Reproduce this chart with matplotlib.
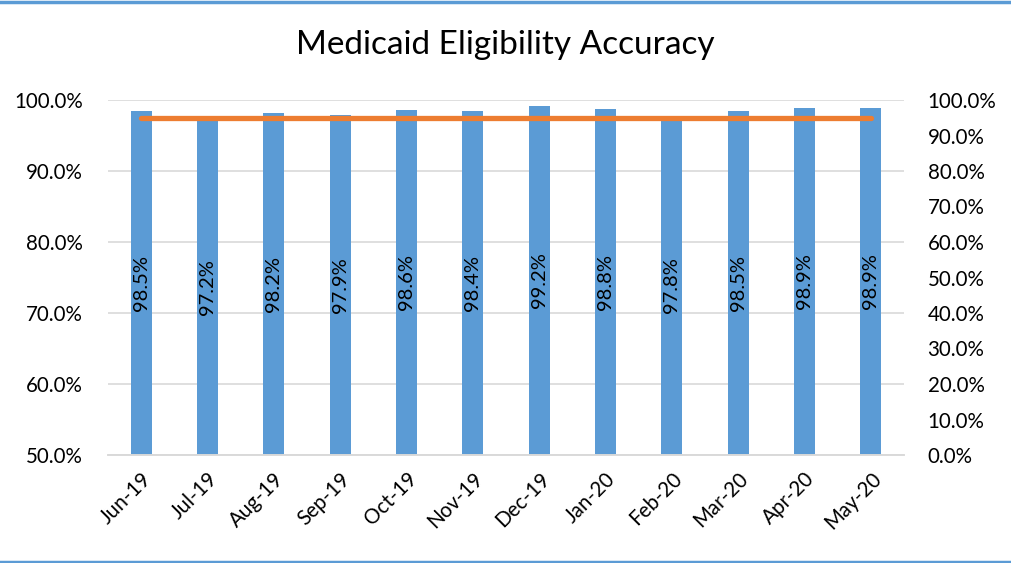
import matplotlib.pyplot as plt
from matplotlib.ticker import PercentFormatter
from matplotlib.lines import Line2D

months = ["Jun-19", "Jul-19", "Aug-19", "Sep-19", "Oct-19", "Nov-19",
          "Dec-19", "Jan-20", "Feb-20", "Mar-20", "Apr-20", "May-20"]
accuracy = [98.5, 97.2, 98.2, 97.9, 98.6, 98.4, 99.2, 98.8, 97.8, 98.5, 98.9, 98.9]
target = [95.0] * len(months)

plt.rcParams["font.family"] = ["Lato", "DejaVu Sans"]

fig = plt.figure(figsize=(10.11, 5.63), dpi=100)
ax = fig.add_axes([108 / 1011, 1 - 455 / 563, 796 / 1011, 355 / 563])
ax2 = ax.twinx()

x = list(range(len(months)))
ax.bar(x, accuracy, width=0.32, color="#5B9BD5", zorder=2)
for xi, v in zip(x, accuracy):
    ax.text(xi, (v + 50) / 2, f"{v:.1f}%", rotation=90, ha="center", va="center",
            fontsize=14.5, color="black", zorder=3)

ax2.plot(x, target, color="#ED7D31", linewidth=3.8, solid_capstyle="round", zorder=4)

ax.set_ylim(50, 100)
ax.set_yticks(range(50, 101, 10))
ax.yaxis.set_major_formatter(PercentFormatter(decimals=1))
ax2.set_ylim(0, 100)
ax2.set_yticks(range(0, 101, 10))
ax2.yaxis.set_major_formatter(PercentFormatter(decimals=1))
ax.set_xlim(-0.5, len(months) - 0.5)
ax.set_xticks(x)
ax.set_xticklabels(months, rotation=45, ha="right", rotation_mode="anchor")

ax.grid(axis="y", color="#D9D9D9", linewidth=1.2, zorder=0)
ax.set_axisbelow(True)
for a in (ax, ax2):
    for s in ("top", "left", "right"):
        a.spines[s].set_visible(False)
    a.spines["bottom"].set_color("#D9D9D9")
    a.spines["bottom"].set_linewidth(1.2)
    a.tick_params(length=0, labelsize=14.8)
ax.tick_params(axis="y", pad=18)
ax.tick_params(axis="x", pad=10)
ax2.tick_params(axis="y", pad=17)

fig.text(0.5, 1 - 45 / 563, "Medicaid Eligibility Accuracy", ha="center", va="center",
         fontsize=24)

fig.add_artist(Line2D([0, 1], [1 - 1.5 / 563, 1 - 1.5 / 563], transform=fig.transFigure,
                      color="#5B9BD5", linewidth=2.5))
fig.add_artist(Line2D([0, 1], [1.5 / 563, 1.5 / 563], transform=fig.transFigure,
                      color="#5B9BD5", linewidth=2.5))

fig.savefig("out.png", dpi=100)
